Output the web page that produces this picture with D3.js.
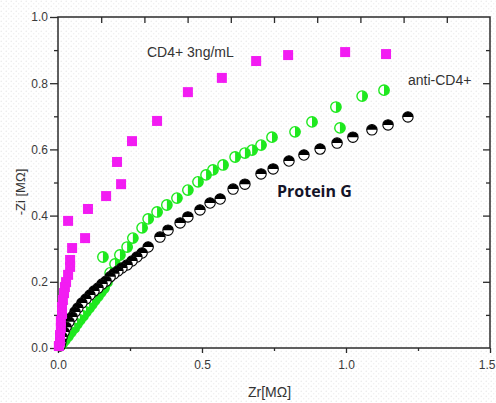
<!DOCTYPE html>
<html>
<head>
<meta charset="utf-8">
<script src="https://cdnjs.cloudflare.com/ajax/libs/d3/7.8.5/d3.min.js"></script>
<style>
  html, body { margin: 0; padding: 0; background: #fff; }
  svg { display: block; }
</style>
</head>
<body>
<svg id="chart" width="496" height="403"></svg>
<script>
// Nyquist plot: -Zi vs Zr (MΩ) for three sensor stages

// CD4+ 3ng/mL  [Zr, -Zi]
const cd4Zr = [1.139, 0.997, 0.799, 0.688, 0.569, 0.451, 0.344, 0.257, 0.205, 0.219, 0.167, 0.104, 0.094, 0.035, 0.049, 0.042, 0.042, 0.035, 0.028, 0.024, 0.021, 0.017, 0.014, 0.014, 0.010, 0.010, 0.007, 0.007, 0.003];
const cd4Zi = [0.888, 0.894, 0.885, 0.867, 0.816, 0.773, 0.686, 0.625, 0.562, 0.495, 0.459, 0.420, 0.332, 0.384, 0.302, 0.266, 0.245, 0.221, 0.199, 0.184, 0.166, 0.145, 0.124, 0.103, 0.082, 0.060, 0.039, 0.021, 0.006];

// anti-CD4+
const antiZr = [1.132, 1.056, 0.965, 0.979, 0.882, 0.823, 0.743, 0.705, 0.674, 0.649, 0.615, 0.573, 0.538, 0.514, 0.486, 0.451, 0.413, 0.378, 0.344, 0.313, 0.292, 0.260, 0.240, 0.215, 0.198, 0.156, 0.181, 0.170, 0.160, 0.149, 0.139, 0.128, 0.118, 0.108, 0.097, 0.087, 0.076, 0.066, 0.056, 0.045, 0.035, 0.024, 0.014];
const antiZi = [0.779, 0.761, 0.728, 0.665, 0.683, 0.653, 0.637, 0.613, 0.598, 0.589, 0.577, 0.553, 0.538, 0.523, 0.502, 0.477, 0.453, 0.432, 0.411, 0.390, 0.363, 0.332, 0.305, 0.281, 0.254, 0.275, 0.227, 0.199, 0.181, 0.169, 0.157, 0.145, 0.133, 0.121, 0.109, 0.097, 0.085, 0.073, 0.060, 0.048, 0.036, 0.024, 0.012];

// Protein G
const protZr = [1.215, 1.146, 1.090, 1.024, 0.969, 0.910, 0.854, 0.802, 0.747, 0.705, 0.649, 0.608, 0.563, 0.528, 0.493, 0.451, 0.424, 0.382, 0.354, 0.313, 0.292, 0.274, 0.257, 0.240, 0.222, 0.208, 0.194, 0.181, 0.167, 0.153, 0.139, 0.125, 0.111, 0.097, 0.083, 0.069, 0.059, 0.049, 0.038, 0.028, 0.021, 0.014, 0.010, 0.007];
const protZi = [0.698, 0.674, 0.659, 0.637, 0.619, 0.601, 0.583, 0.565, 0.541, 0.526, 0.495, 0.480, 0.450, 0.438, 0.417, 0.396, 0.378, 0.356, 0.335, 0.305, 0.287, 0.275, 0.263, 0.251, 0.242, 0.233, 0.224, 0.215, 0.202, 0.193, 0.181, 0.172, 0.160, 0.148, 0.136, 0.121, 0.109, 0.094, 0.079, 0.063, 0.048, 0.033, 0.018, 0.006];

// Axis ticks
const xMajor = [0, 0.5, 1.0, 1.5];
const xMinor = [0.25, 0.75, 1.25];
const xTop = [0.15, 0.3, 0.45, 0.6, 0.75, 0.9, 1.05, 1.2, 1.35];
const yMajor = [0, 0.2, 0.4, 0.6, 0.8, 1.0];
const yMinor = [0.1, 0.3, 0.5, 0.7, 0.9];

const zip = (a, b) => a.map((v, i) => [v, b[i]]);

const svg = d3.select("#chart");
const W = 496, H = 403;
const L = 58, R = 490, T = 17, B = 348;

const x = d3.scaleLinear().domain([0, 1.5]).range([L, R]);
const y = d3.scaleLinear().domain([0, 1.0]).range([B, T]);

// faint dotted paper texture
const defs = svg.append("defs");
const pat = defs.append("pattern").attr("id", "dots")
  .attr("width", 5).attr("height", 5).attr("patternUnits", "userSpaceOnUse");
pat.append("circle").attr("cx", 1.2).attr("cy", 1.2).attr("r", 0.7).attr("fill", "#e6e6e6");
pat.append("circle").attr("cx", 3.7).attr("cy", 3.7).attr("r", 0.7).attr("fill", "#eeeeee");
svg.append("rect").attr("width", W).attr("height", H).attr("fill", "#fff");
svg.append("rect").attr("width", W).attr("height", H).attr("fill", "url(#dots)");

const font = "'Liberation Sans', Arial, sans-serif";
const axisColor = "#2b2b2b";

function styleAxis(g, showText) {
  g.select(".domain").remove();
  g.selectAll(".tick line").attr("stroke", axisColor).attr("stroke-width", 1.3);
  g.selectAll(".tick text")
    .attr("fill", "#3a3a3a").style("font-family", font).style("font-size", "12px")
    .style("display", showText ? null : "none");
}

// left axis
svg.append("g").attr("transform", `translate(${L},0)`)
  .call(d3.axisLeft(y).tickValues(yMajor).tickSize(8).tickPadding(2).tickFormat(d3.format(".1f")))
  .call(g => styleAxis(g, true));
svg.append("g").attr("transform", `translate(${L},0)`)
  .call(d3.axisLeft(y).tickValues(yMinor).tickSize(4).tickFormat(""))
  .call(g => styleAxis(g, false));

// bottom axis; the last label sits flush against the right edge
svg.append("g").attr("transform", `translate(0,${B})`)
  .call(d3.axisBottom(x).tickValues(xMajor).tickSize(5).tickPadding(7).tickFormat(d3.format(".1f")))
  .call(g => styleAxis(g, true))
  .call(g => g.selectAll(".tick text").filter(d => d === 1.5)
    .attr("text-anchor", "end").attr("x", W - 1 - x(1.5)));
svg.append("g").attr("transform", `translate(0,${B})`)
  .call(d3.axisBottom(x).tickValues(xMinor).tickSize(3).tickFormat(""))
  .call(g => styleAxis(g, false));

// top axis, ticks pointing inward
svg.append("g").attr("transform", `translate(0,${T})`)
  .call(d3.axisTop(x).tickValues(xTop).tickSize(-6).tickFormat(""))
  .call(g => styleAxis(g, false));

// right axis, ticks pointing inward
svg.append("g").attr("transform", `translate(${R},0)`)
  .call(d3.axisRight(y).tickValues(yMajor.filter(v => v > 0 && v < 1)).tickSize(-7).tickFormat(""))
  .call(g => styleAxis(g, false));
svg.append("g").attr("transform", `translate(${R},0)`)
  .call(d3.axisRight(y).tickValues(yMinor).tickSize(-4).tickFormat(""))
  .call(g => styleAxis(g, false));

// frame
svg.append("rect").attr("x", L).attr("y", T).attr("width", R - L).attr("height", B - T)
  .attr("fill", "none").attr("stroke", axisColor).attr("stroke-width", 1.5);

// axis titles
svg.append("text").attr("x", 248).attr("y", 397)
  .style("font-family", font).style("font-size", "14px").attr("fill", "#333")
  .text("Zr[MΩ]");
svg.append("text").attr("transform", "translate(25,192) rotate(-90)")
  .attr("text-anchor", "middle")
  .style("font-family", font).style("font-size", "13px").attr("fill", "#333")
  .text("-Zi [MΩ]");

const plot = svg.append("g");
const r = 5.2;
const topHalf = `M${-r},0 A${r},${r} 0 0 1 ${r},0 Z`;
const rightHalf = `M0,${-r} A${r},${r} 0 0 1 0,${r} Z`;

// anti-CD4+: half-filled green circles
const gAnti = plot.append("g").selectAll("g").data(zip(antiZr, antiZi)).join("g")
  .attr("transform", d => `translate(${x(d[0])},${y(d[1])})`);
gAnti.append("circle").attr("r", r).attr("fill", "#fff").attr("stroke", "#1ee81e").attr("stroke-width", 1.4);
gAnti.append("path").attr("d", rightHalf).attr("fill", "#1ee81e");

// Protein G: half-filled black circles
const gProt = plot.append("g").selectAll("g").data(zip(protZr, protZi)).join("g")
  .attr("transform", d => `translate(${x(d[0])},${y(d[1])})`);
gProt.append("circle").attr("r", r).attr("fill", "#fff").attr("stroke", "#000").attr("stroke-width", 1.1);
gProt.append("path").attr("d", topHalf).attr("fill", "#000");

// CD4+ 3ng/mL: magenta squares
const s = 10;
plot.append("g").selectAll("rect").data(zip(cd4Zr, cd4Zi)).join("rect")
  .attr("x", d => x(d[0]) - s / 2).attr("y", d => y(d[1]) - s / 2)
  .attr("width", s).attr("height", s).attr("fill", "#f21cf2");

// series annotations
svg.append("text").attr("x", 147).attr("y", 57)
  .style("font-family", font).style("font-size", "14px").attr("fill", "#333")
  .text("CD4+ 3ng/mL");
svg.append("text").attr("x", 408).attr("y", 85)
  .style("font-family", font).style("font-size", "14px").attr("fill", "#333")
  .text("anti-CD4+");
svg.append("text").attr("x", 277).attr("y", 197)
  .style("font-family", "'Open Sans', sans-serif").style("font-size", "16px").style("font-weight", "bold")
  .attr("fill", "#141428")
  .text("Protein G");
</script>
</body>
</html>
